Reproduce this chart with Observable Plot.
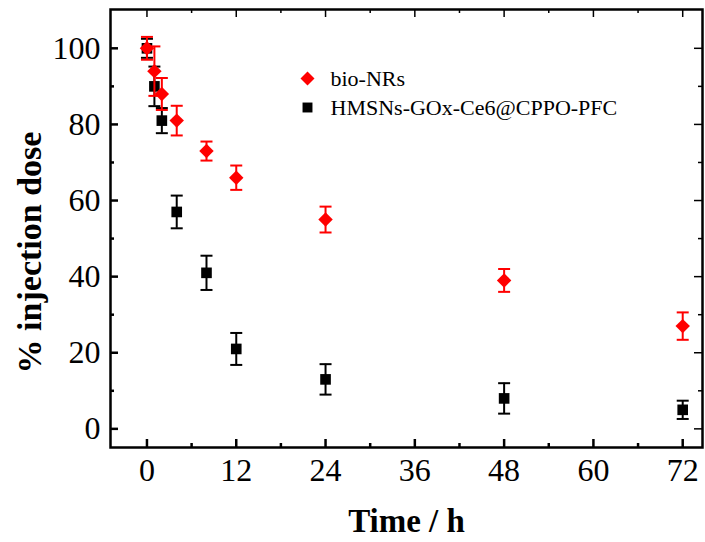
<!DOCTYPE html>
<html>
<head>
<meta charset="utf-8">
<script src="https://cdn.jsdelivr.net/npm/d3@7"></script>
<script src="https://cdn.jsdelivr.net/npm/@observablehq/plot@0.6"></script>
<style>
  html, body { margin: 0; padding: 0; background: #fff; }
  #chart svg { display: block; }
</style>
</head>
<body>
<div id="chart"></div>
<script>
// ---- data ----
const times = [0, 1, 2, 4, 8, 12, 24, 48, 72];
const bioNRs = [100, 94, 88, 81, 73, 66, 55, 39, 27];
const bioNRsErr = [3, 6.5, 4.2, 3.9, 2.5, 3.2, 3.4, 3, 3.6];
const hmsns = [100, 90, 81, 57, 41, 21, 13, 8, 5];
const hmsnsErr = [2.5, 5.2, 3.3, 4.3, 4.5, 4.2, 4, 4, 2.4];
const seriesNames = ["bio-NRs", "HMSNs-GOx-Ce6@CPPO-PFC"];
const seriesColors = ["#ff0000", "#000000"];
const xMajor = [0, 12, 24, 36, 48, 60, 72];
const xMinor = [6, 18, 30, 42, 54, 66];
const yMajor = [0, 20, 40, 60, 80, 100];
const yMinor = [10, 30, 50, 70, 90];

const rows = (vals, errs, name) => times.map((t, i) => ({
  t, v: vals[i], lo: vals[i] - errs[i], hi: vals[i] + errs[i], series: name
}));
const red = rows(bioNRs, bioNRsErr, seriesNames[0]);
const black = rows(hmsns, hmsnsErr, seriesNames[1]);

const cap = { draw(ctx) { ctx.moveTo(-6, 0); ctx.lineTo(6, 0); } };

function series(data, color, symbol, r) {
  return [
    Plot.ruleX(data, { x: "t", y1: "lo", y2: "hi", stroke: color, strokeWidth: 2 }),
    Plot.dot(data, { x: "t", y: "lo", symbol: cap, stroke: color, strokeWidth: 2, r: 3 }),
    Plot.dot(data, { x: "t", y: "hi", symbol: cap, stroke: color, strokeWidth: 2, r: 3 }),
    Plot.dot(data, { x: "t", y: "v", symbol, fill: color, stroke: "none", r })
  ];
}

const W = 705, H = 542, ML = 110, MR = 3, MT = 9, MB = 95;
const FW = W - ML - MR, FH = H - MT - MB;
const major = 8, minor = 4;

const font = "'Liberation Serif', 'Times New Roman', serif";

const chart = Plot.plot({
  width: W,
  height: H,
  marginLeft: ML,
  marginRight: MR,
  marginTop: MT,
  marginBottom: MB,
  style: { fontFamily: font, background: "#fff", color: "#000" },
  x: { domain: [-4.9, 74.66] },
  y: { domain: [-4.9, 110.2] },
  marks: [
    // tick labels
    Plot.axisX(xMajor, { anchor: "bottom", tickSize: 0, tickPadding: 11, fontSize: 32, label: null }),
    Plot.axisY(yMajor, { anchor: "left", tickSize: 0, tickPadding: 10, fontSize: 32, label: null }),
    // inward ticks on all four sides
    Plot.tickX(xMajor, { x: d => d, insetTop: FH - major, stroke: "#000", strokeWidth: 2.5 }),
    Plot.tickX(xMinor, { x: d => d, insetTop: FH - minor, stroke: "#000", strokeWidth: 2.5 }),
    Plot.tickX(xMajor, { x: d => d, insetBottom: FH - major, stroke: "#000", strokeWidth: 1.5 }),
    Plot.tickX(xMinor, { x: d => d, insetBottom: FH - minor, stroke: "#000", strokeWidth: 1.5 }),
    Plot.tickY(yMajor, { y: d => d, insetRight: FW - major, stroke: "#000", strokeWidth: 2.5 }),
    Plot.tickY(yMinor, { y: d => d, insetRight: FW - minor, stroke: "#000", strokeWidth: 2.5 }),
    Plot.tickY(yMajor, { y: d => d, insetLeft: FW - major, stroke: "#000", strokeWidth: 1.5 }),
    Plot.tickY(yMinor, { y: d => d, insetLeft: FW - minor, stroke: "#000", strokeWidth: 1.5 }),
    Plot.frame({ stroke: "#000", strokeWidth: 2.5 }),
    ...series(black, seriesColors[1], "square", 6),
    ...series(red, seriesColors[0], "diamond2", 6.5),
    // legend
    Plot.dot([seriesNames[0]], { frameAnchor: "top-left", dx: 197, dy: 69, symbol: "diamond2", r: 6.3, fill: seriesColors[0] }),
    Plot.dot([seriesNames[1]], { frameAnchor: "top-left", dx: 197, dy: 98, symbol: "square", r: 5.6, fill: seriesColors[1] }),
    Plot.text([seriesNames[0]], { frameAnchor: "top-left", dx: 220, dy: 69, text: d => d, textAnchor: "start", lineAnchor: "middle", fontSize: 22, fill: "#000" }),
    Plot.text([seriesNames[1]], { frameAnchor: "top-left", dx: 220, dy: 98, text: d => d, textAnchor: "start", lineAnchor: "middle", fontSize: 22, fill: "#000" }),
    // axis titles
    Plot.text(["Time / h"], { frameAnchor: "bottom", dy: 84, text: d => d, textAnchor: "middle", lineAnchor: "bottom", fontSize: 33, fontWeight: "bold", fill: "#000" }),
    Plot.text(["% injection dose"], { frameAnchor: "left", dx: -80, dy: 24, rotate: -90, text: d => d, textAnchor: "middle", lineAnchor: "middle", fontSize: 34, fontWeight: "bold", fill: "#000" })
  ]
});
document.getElementById("chart").appendChild(chart);
</script>
</body>
</html>
